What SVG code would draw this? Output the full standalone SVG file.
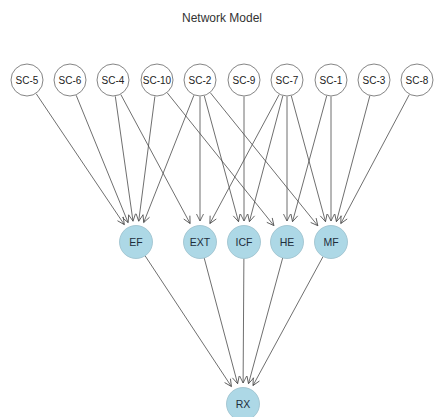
<svg xmlns="http://www.w3.org/2000/svg" width="434" height="417" viewBox="0 0 434 417">
  <style>
    .title { font-family: "Liberation Sans", Arial, sans-serif; font-size: 12px; fill: #333; text-anchor: middle; }
    .src circle { fill: #ffffff; stroke: #666; stroke-width: 0.8; }
    .src text { font-family: "Liberation Sans", Arial, sans-serif; font-size: 10px; fill: #222; text-anchor: middle; }
    .dst circle { fill: #add8e6; stroke: #9abfcc; stroke-width: 0.8; }
    .dst text { font-family: "Liberation Sans", Arial, sans-serif; font-size: 10.5px; fill: #1e2e3c; text-anchor: middle; }
    #edges line { stroke: #4a4a4a; stroke-width: 0.8; marker-end: url(#arrow); }
  </style>
  <defs>
    <marker id="arrow" markerUnits="userSpaceOnUse" markerWidth="9" markerHeight="9" refX="7" refY="3.5" orient="auto" overflow="visible">
      <path d="M0,0 L7,3.5 L0,7" fill="none" stroke="#4a4a4a" stroke-width="0.8"/>
    </marker>
  </defs>
  <rect width="434" height="417" fill="#ffffff"/>
  <text class="title" x="222" y="22">Network Model</text>

  <g id="edges">
    <!-- sources to EF -->
    <line x1="36.2" y1="93.7" x2="124.3" y2="224.6"/>
    <line x1="76.2" y1="95.3" x2="128.1" y2="222.6"/>
    <line x1="115.3" y1="96.3" x2="133.0" y2="221.2"/>
    <line x1="154.9" y1="96.4" x2="138.7" y2="221.2"/>
    <line x1="193.9" y1="95.3" x2="143.7" y2="222.5"/>
    <!-- to EXT -->
    <line x1="120.8" y1="94.5" x2="190.1" y2="223.5"/>
    <line x1="200" y1="96.5" x2="200" y2="221"/>
    <line x1="279.2" y1="94.5" x2="209.9" y2="223.5"/>
    <!-- to ICF -->
    <line x1="204.3" y1="95.9" x2="238.5" y2="221.7"/>
    <line x1="244" y1="96.5" x2="244" y2="221"/>
    <line x1="282.8" y1="95.9" x2="249.4" y2="221.7"/>
    <!-- to HE -->
    <line x1="167.3" y1="92.9" x2="273.9" y2="225.6"/>
    <line x1="287" y1="96.5" x2="287" y2="221"/>
    <line x1="326.7" y1="95.9" x2="292.5" y2="221.7"/>
    <!-- to MF -->
    <line x1="210.4" y1="92.8" x2="317.8" y2="225.7"/>
    <line x1="291.3" y1="95.9" x2="325.5" y2="221.7"/>
    <line x1="331" y1="96.5" x2="331" y2="221"/>
    <line x1="369.8" y1="95.9" x2="336.4" y2="221.7"/>
    <line x1="409.3" y1="94.6" x2="340.8" y2="223.5"/>
    <!-- to RX -->
    <line x1="145.1" y1="255.8" x2="231.4" y2="386.5"/>
    <line x1="204.2" y1="258.0" x2="237.6" y2="383.7"/>
    <line x1="243.9" y1="258.5" x2="243.1" y2="383"/>
    <line x1="282.7" y1="257.9" x2="248.5" y2="383.7"/>
    <line x1="323.1" y1="256.5" x2="253.0" y2="385.5"/>
  </g>

  <g id="sc-5" class="src"><circle cx="27" cy="80" r="16"/><text x="27" y="83.5">SC-5</text></g>
  <g id="sc-6" class="src"><circle cx="70" cy="80" r="16"/><text x="70" y="83.5">SC-6</text></g>
  <g id="sc-4" class="src"><circle cx="113" cy="80" r="16"/><text x="113" y="83.5">SC-4</text></g>
  <g id="sc-10" class="src"><circle cx="157" cy="80" r="16"/><text x="157" y="83.5">SC-10</text></g>
  <g id="sc-2" class="src"><circle cx="200" cy="80" r="16"/><text x="200" y="83.5">SC-2</text></g>
  <g id="sc-9" class="src"><circle cx="244" cy="80" r="16"/><text x="244" y="83.5">SC-9</text></g>
  <g id="sc-7" class="src"><circle cx="287" cy="80" r="16"/><text x="287" y="83.5">SC-7</text></g>
  <g id="sc-1" class="src"><circle cx="331" cy="80" r="16"/><text x="331" y="83.5">SC-1</text></g>
  <g id="sc-3" class="src"><circle cx="374" cy="80" r="16"/><text x="374" y="83.5">SC-3</text></g>
  <g id="sc-8" class="src"><circle cx="417" cy="80" r="16"/><text x="417" y="83.5">SC-8</text></g>

  <g id="ef" class="dst"><circle cx="136" cy="242" r="16.5"/><text x="136" y="245.7">EF</text></g>
  <g id="ext" class="dst"><circle cx="200" cy="242" r="16.5"/><text x="200" y="245.7">EXT</text></g>
  <g id="icf" class="dst"><circle cx="244" cy="242" r="16.5"/><text x="244" y="245.7">ICF</text></g>
  <g id="he" class="dst"><circle cx="287" cy="242" r="16.5"/><text x="287" y="245.7">HE</text></g>
  <g id="mf" class="dst"><circle cx="331" cy="242" r="16.5"/><text x="331" y="245.7">MF</text></g>

  <g id="rx" class="dst"><circle cx="243" cy="404" r="16.5"/><text x="243" y="407.7">RX</text></g>
</svg>
